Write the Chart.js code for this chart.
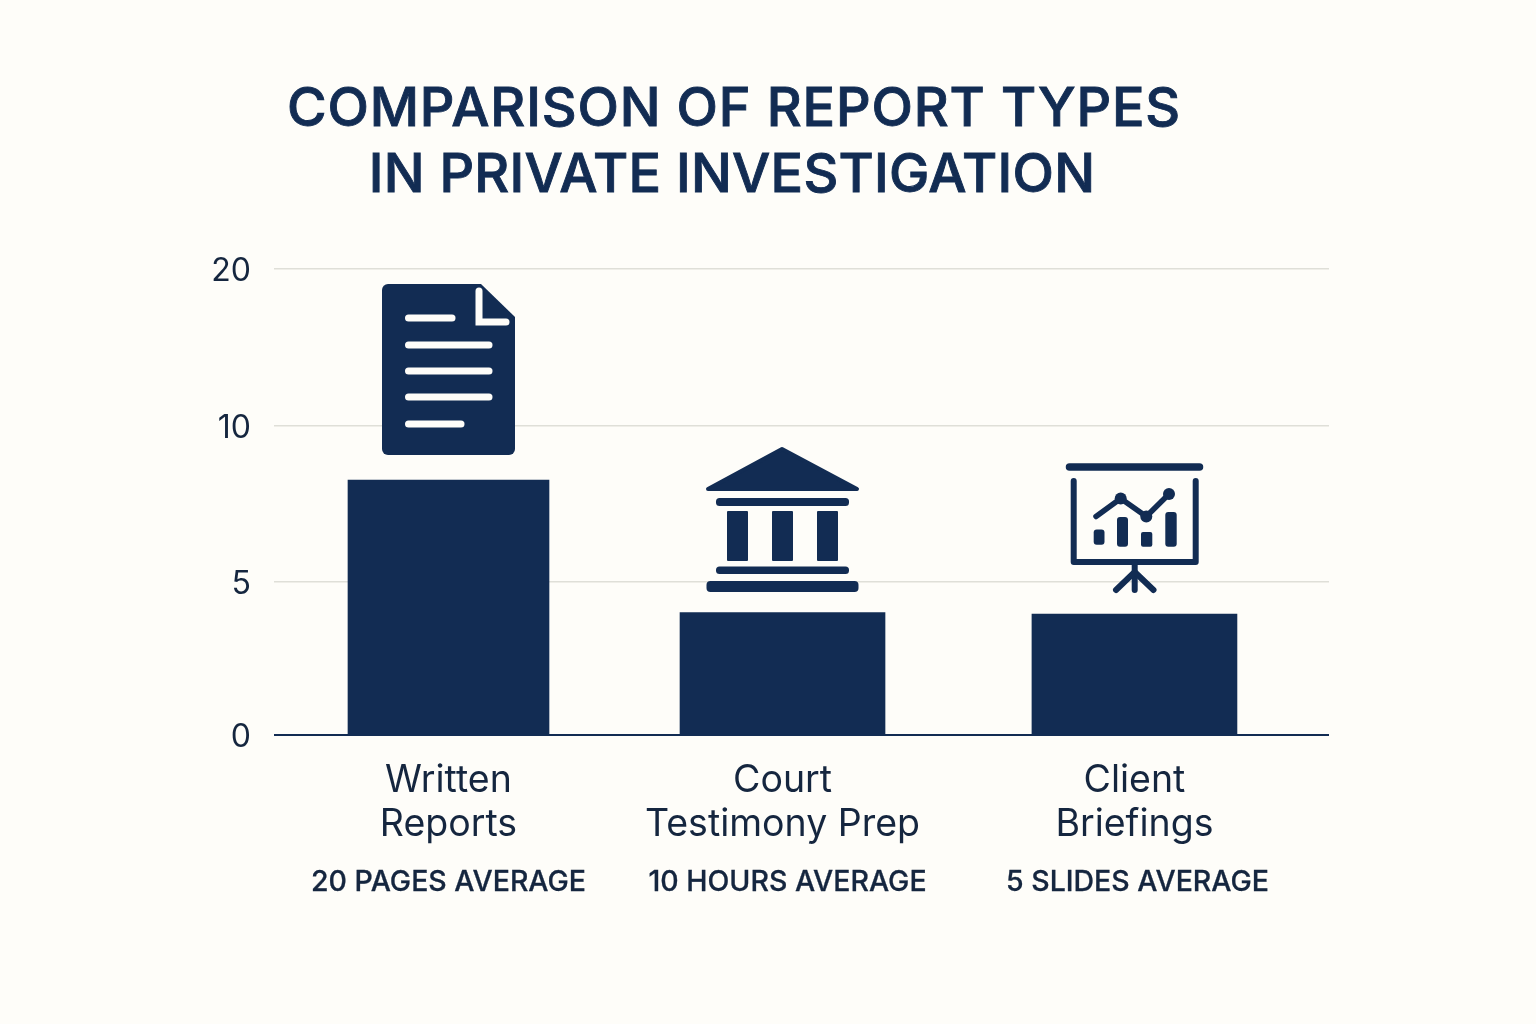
<!DOCTYPE html>
<html>
<head>
<meta charset="utf-8">
<title>Comparison of report types</title>
<script src="https://cdn.jsdelivr.net/npm/chart.js@4/dist/chart.umd.js"></script>
<style>
  html, body { margin: 0; padding: 0; background: #fefdf9; }
  canvas { display: block; }
</style>
</head>
<body>
<canvas id="myChart" width="1536" height="1024"></canvas>
<script>
var titleLines = ["COMPARISON OF REPORT TYPES", "IN PRIVATE INVESTIGATION"];
var categories = [["Written", "Reports"], ["Court", "Testimony Prep"], ["Client", "Briefings"]];
var subLabels = ["20 PAGES AVERAGE", "10 HOURS AVERAGE", "5 SLIDES AVERAGE"];
var barValues = [8.27, 4, 3.95];
var yTickValues = [0, 5, 10, 20];

// the axis is not linear: ticks sit at these fractions of its height
var yTickStops = [0, 0.3283, 0.6631, 1];
// bars are not evenly spaced in the picture either
var xSlots = [0.1654, 0.482, 0.8156];
var barWidths = [201, 205, 205];

var NAVY = "#122c53";
var INK = "#15263f";
var FONT = "Inter, sans-serif";

class SteppedScale extends Chart.LinearScale {
    getPixelForValue(value) {
        if (value === null || value === undefined) return NaN;
        var frac = 1;
        for (var i = 0; i < yTickValues.length - 1; i++) {
            if (value <= yTickValues[i + 1]) {
                var t = (value - yTickValues[i]) / (yTickValues[i + 1] - yTickValues[i]);
                frac = yTickStops[i] + t * (yTickStops[i + 1] - yTickStops[i]);
                break;
            }
        }
        return this.getPixelForDecimal(frac);
    }
}
SteppedScale.id = "stepped";
SteppedScale.defaults = Chart.LinearScale.defaults;
Chart.register(SteppedScale);

function spaced(ctx, text, x, y, font, color, spacing, stroke) {
    ctx.save();
    ctx.font = font;
    ctx.fillStyle = color;
    ctx.textAlign = "center";
    ctx.textBaseline = "alphabetic";
    ctx.letterSpacing = spacing + "px";
    ctx.fillText(text, x, y);
    // Inter only comes in fixed weights here, this fattens 500 a little
    if (stroke) {
        ctx.strokeStyle = color;
        ctx.lineWidth = stroke;
        ctx.strokeText(text, x, y);
    }
    ctx.restore();
}

function roundBox(ctx, x0, y0, x1, y1, r) {
    ctx.beginPath();
    ctx.roundRect(x0, y0, x1 - x0, y1 - y0, r);
    ctx.fill();
}

function polyline(ctx, pts) {
    ctx.beginPath();
    ctx.moveTo(pts[0][0], pts[0][1]);
    for (var i = 1; i < pts.length; i++) ctx.lineTo(pts[i][0], pts[i][1]);
    ctx.stroke();
}

function drawDocument(ctx) {
    ctx.fillStyle = NAVY;
    ctx.beginPath();
    ctx.moveTo(388, 284);
    ctx.lineTo(481, 284);
    ctx.lineTo(515, 317);
    ctx.lineTo(515, 449);
    ctx.arcTo(515, 455, 509, 455, 6);
    ctx.lineTo(388, 455);
    ctx.arcTo(382, 455, 382, 449, 6);
    ctx.lineTo(382, 290);
    ctx.arcTo(382, 284, 388, 284, 6);
    ctx.closePath();
    ctx.fill();

    ctx.strokeStyle = "#fefdf9";
    ctx.lineCap = "round";
    ctx.lineJoin = "miter";
    ctx.lineWidth = 7;
    polyline(ctx, [[479, 291], [479, 322], [506, 322]]);
    [[318, 452], [345, 489], [371, 489], [397, 489], [424, 461]].forEach(function (l) {
        polyline(ctx, [[408.5, l[0]], [l[1], l[0]]]);
    });
}

function drawCourthouse(ctx) {
    ctx.fillStyle = NAVY;
    ctx.strokeStyle = NAVY;
    ctx.lineJoin = "round";
    ctx.lineWidth = 4;
    ctx.beginPath();
    ctx.moveTo(782, 449);
    ctx.lineTo(857, 489);
    ctx.lineTo(708, 489);
    ctx.closePath();
    ctx.fill();
    ctx.stroke();

    roundBox(ctx, 716, 498, 849, 506, 3.5);
    [727, 772, 817].forEach(function (x) {
        roundBox(ctx, x, 511, x + 21, 561, 1);
    });
    roundBox(ctx, 716, 566.5, 849, 574, 3.5);
    roundBox(ctx, 706.5, 581, 858.5, 592, 4);
}

function drawBoard(ctx) {
    ctx.strokeStyle = NAVY;
    ctx.fillStyle = NAVY;
    ctx.lineCap = "round";
    ctx.lineJoin = "round";

    ctx.lineWidth = 7.5;
    polyline(ctx, [[1069.5, 467], [1199.5, 467]]);

    ctx.lineWidth = 6;
    polyline(ctx, [[1073.7, 481], [1073.7, 562], [1195.7, 562], [1195.7, 481]]);
    polyline(ctx, [[1134.7, 562], [1134.7, 590]]);
    polyline(ctx, [[1116, 590], [1134.7, 572], [1153.5, 590]]);

    ctx.lineWidth = 5.5;
    polyline(ctx, [[1096, 516.5], [1120.7, 498.5], [1146.3, 516.5], [1169, 494]]);
    [[1120.7, 498.5], [1146.3, 516.5], [1169, 494]].forEach(function (p) {
        ctx.beginPath();
        ctx.arc(p[0], p[1], 6, 0, Math.PI * 2);
        ctx.fill();
    });

    roundBox(ctx, 1093.7, 529.5, 1104.5, 544.7, 3);
    roundBox(ctx, 1117, 517, 1128, 546.7, 3);
    roundBox(ctx, 1141, 532, 1152.3, 546.7, 2);
    roundBox(ctx, 1165.3, 512, 1176.7, 546.7, 3);
}

var decorations = {
    id: "decorations",
    beforeDraw: function (chart) {
        var ctx = chart.ctx;
        ctx.save();
        ctx.fillStyle = "#fefdf9";
        ctx.fillRect(0, 0, chart.width, chart.height);
        ctx.restore();
    },
    afterDraw: function (chart) {
        var ctx = chart.ctx;
        spaced(ctx, titleLines[0], 734, 126, "500 54px " + FONT, NAVY, 0.85, 0.9);
        spaced(ctx, titleLines[1], 732, 192, "500 54px " + FONT, NAVY, 0.25, 0.9);

        var sx = [448.5, 787.5, 1137.5];
        subLabels.forEach(function (s, i) {
            spaced(ctx, s, sx[i], 891, "500 28.5px " + FONT, INK, 0, 0.3);
        });

        ctx.save();
        drawDocument(ctx);
        drawCourthouse(ctx);
        drawBoard(ctx);
        ctx.restore();
    }
};

var datasets = barValues.map(function (v, i) {
    return {
        label: categories[i].join(" "),
        data: [{ x: xSlots[i], y: v }],
        backgroundColor: NAVY,
        barThickness: barWidths[i],
        grouped: false
    };
});

var ctx = document.getElementById("myChart");
var myChart = new Chart(ctx, {
    type: "bar",
    data: { datasets: datasets },
    options: {
        responsive: false,
        animation: false,
        layout: { padding: { top: 269, right: 207, left: 0, bottom: 0 } },
        plugins: {
            legend: { display: false },
            title: { display: false },
            tooltip: { enabled: false }
        },
        scales: {
            x: {
                type: "linear",
                offset: false,
                min: 0,
                max: 1,
                grid: { display: false, drawTicks: false },
                border: { display: false },
                afterBuildTicks: function (scale) {
                    scale.ticks = xSlots.map(function (s) { return { value: s }; });
                },
                afterFit: function (scale) { scale.height = 289; },
                ticks: {
                    autoSkip: false,
                    maxRotation: 0,
                    minRotation: 0,
                    padding: 24,
                    color: INK,
                    font: { family: "Inter", size: 37.5, weight: "400", lineHeight: 1.17 },
                    callback: function (value, i) { return categories[i]; }
                }
            },
            y: {
                type: "stepped",
                min: 0,
                max: 20,
                grid: {
                    drawTicks: false,
                    color: function (c) { return c.tick.value === 0 ? NAVY : "#dfdfd8"; },
                    lineWidth: function (c) { return c.tick.value === 0 ? 2 : 1.5; }
                },
                border: { display: false },
                afterBuildTicks: function (scale) {
                    scale.ticks = yTickValues.map(function (v) { return { value: v }; });
                },
                afterFit: function (scale) { scale.width = 274; },
                ticks: {
                    padding: 23,
                    labelOffset: 2,
                    color: INK,
                    font: { family: "Inter", size: 32, weight: "400" },
                    callback: function (value) { return String(value); }
                }
            }
        }
    },
    plugins: [decorations]
});
</script>
</body>
</html>
